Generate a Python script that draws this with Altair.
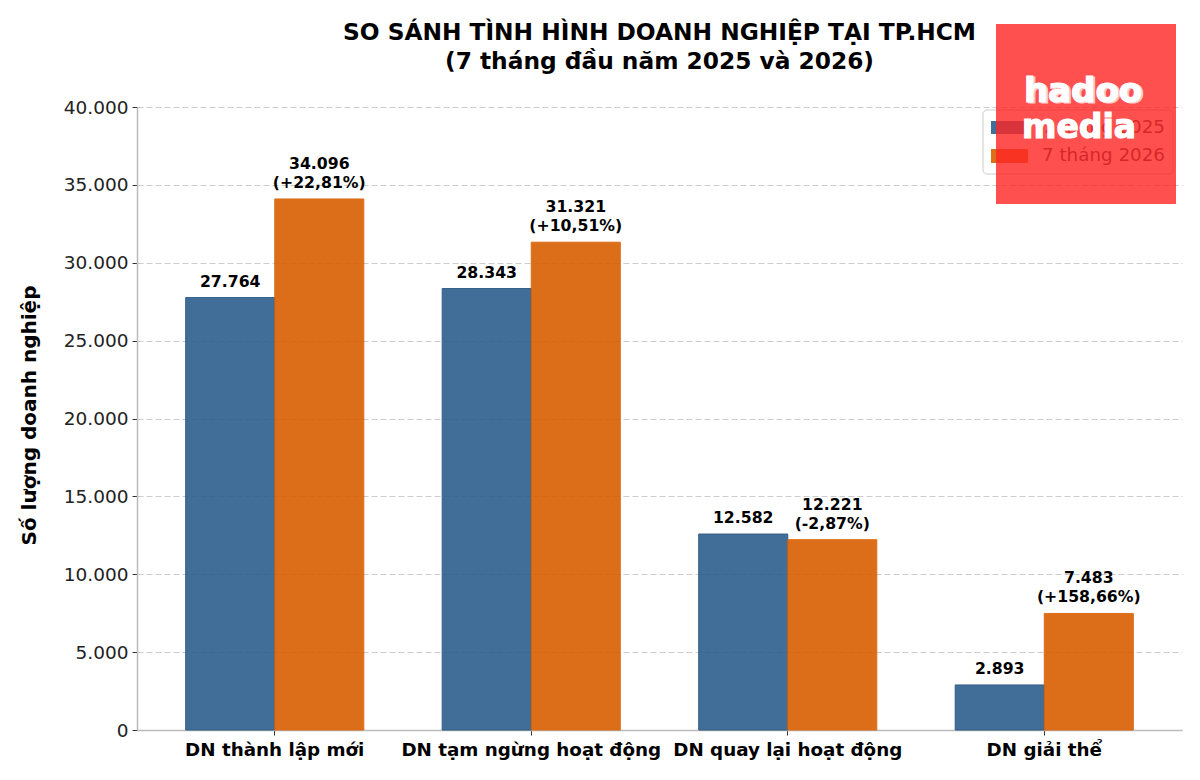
import altair as alt
import pandas as pd

FONT = "DejaVu Sans"

categories = ["DN thành lập mới", "DN tạm ngừng hoạt động", "DN quay lại hoạt động", "DN giải thể"]
series_names = ["7 tháng 2025", "7 tháng 2026"]
values_2025 = [27764, 28343, 12582, 2893]
values_2026 = [34096, 31321, 12221, 7483]
labels_2025 = ["27.764", "28.343", "12.582", "2.893"]
labels_2026 = ["34.096", "31.321", "12.221", "7.483"]
changes_2026 = ["(+22,81%)", "(+10,51%)", "(-2,87%)", "(+158,66%)"]
y_ticks = [0, 5000, 10000, 15000, 20000, 25000, 30000, 35000, 40000]
bar_colors = ["#2C5F8D", "#D95F02"]

df = pd.DataFrame({
    "cat": categories * 2,
    "series": [series_names[0]] * 4 + [series_names[1]] * 4,
    "value": values_2025 + values_2026,
    # line right above the bar, and the extra line over it for 2026
    "low": labels_2025 + changes_2026,
    "high": [""] * 4 + labels_2026,
})

x = alt.X(
    "cat:N",
    sort=categories,
    title=None,
    scale=alt.Scale(paddingInner=0, paddingOuter=0.037),
    axis=alt.Axis(
        labelAngle=0, labelFont=FONT, labelFontSize=18.3, labelFontWeight="bold",
        labelColor="#000000", labelPadding=6, labelLimit=300,
        tickColor="#333333", tickSize=5, domainColor="#BBBBBB", domainWidth=1.5, grid=False,
    ),
)
x_offset = alt.XOffset(
    "series:N", sort=series_names,
    scale=alt.Scale(paddingInner=0, paddingOuter=0.44),
)
y = alt.Y(
    "value:Q",
    title="Số lượng doanh nghiệp",
    scale=alt.Scale(domain=[0, 40000], nice=False),
    axis=alt.Axis(
        values=y_ticks,
        labelExpr="replace(format(datum.value, ','), ',', '.')",
        labelFont=FONT, labelFontSize=18.5, labelColor="#222222", labelPadding=4,
        tickColor="#333333", tickSize=5, domainColor="#BBBBBB", domainWidth=1.5,
        grid=True, gridColor="#CCCCCC", gridDash=[6, 3], gridWidth=1.2,
        titleFont=FONT, titleFontSize=20, titleFontWeight="bold", titleColor="#000000",
        titlePadding=24, titleY=308,
    ),
)

bars = alt.Chart(df).mark_bar(opacity=0.9, strokeWidth=1).encode(
    x=x,
    xOffset=x_offset,
    y=y,
    color=alt.Color("series:N", sort=series_names, legend=None,
                    scale=alt.Scale(domain=series_names, range=bar_colors)),
    stroke=alt.Stroke("series:N", sort=series_names, legend=None,
                      scale=alt.Scale(domain=series_names, range=["#1F4E79", "#D95F02"])),
)

low_labels = alt.Chart(df).mark_text(
    font=FONT, fontSize=15.7, fontWeight="bold", color="#000000", baseline="middle", dy=-16,
).encode(x=x, xOffset=x_offset, y=y, text="low:N")
high_labels = alt.Chart(df).mark_text(
    font=FONT, fontSize=15.7, fontWeight="bold", color="#000000", baseline="middle", dy=-35,
).encode(x=x, xOffset=x_offset, y=y, text="high:N")

# legend drawn by hand, the logo has to sit on top of it
one = pd.DataFrame({"k": [0]})
legend_box = alt.Chart(one).mark_rect(
    fill="#FFFFFF", fillOpacity=0.8, stroke="#CCCCCC", strokeWidth=1, cornerRadius=4,
).encode(x=alt.value(846), x2=alt.value(1036), y=alt.value(3), y2=alt.value(67))
swatch_a = alt.Chart(one).mark_rect(color=bar_colors[0], opacity=0.9).encode(
    x=alt.value(854), x2=alt.value(891), y=alt.value(14), y2=alt.value(27))
swatch_b = alt.Chart(one).mark_rect(color=bar_colors[1], opacity=0.9).encode(
    x=alt.value(854), x2=alt.value(891), y=alt.value(42), y2=alt.value(56))
legend_a = alt.Chart(one).mark_text(
    text=series_names[0], font=FONT, fontSize=18.3, color="#333333", align="left", baseline="middle",
).encode(x=alt.value(905), y=alt.value(21))
legend_b = alt.Chart(one).mark_text(
    text=series_names[1], font=FONT, fontSize=18.3, color="#333333", align="left", baseline="middle",
).encode(x=alt.value(905), y=alt.value(49))

# logo block
logo_box = alt.Chart(one).mark_rect(color="#FF2424", opacity=0.8).encode(
    x=alt.value(859), x2=alt.value(1039), y=alt.value(-83), y2=alt.value(97))


def logo_word(word, px, py, color, size=33):
    return alt.Chart(one).mark_text(
        text=word, font=FONT, fontSize=size, fontWeight="bold", color=color,
        stroke=color, strokeWidth=1.2, align="center", baseline="middle",
    ).encode(x=alt.value(px), y=alt.value(py))


logo = [
    logo_word("hadoo", 948, -14, "#FFC9C9", 34),
    logo_word("hadoo", 946, -15, "#FFFFFF", 34),
    logo_word("media", 942, 21, "#FFFFFF"),
]

chart = alt.layer(
    bars, low_labels, high_labels, legend_box, swatch_a, swatch_b, legend_a, legend_b, logo_box, *logo
).properties(
    width=1045,
    height=623,
    padding={"left": 129, "top": 99, "right": 10, "bottom": 42},
    autosize=alt.AutoSizeParams(type="none"),
    background="#FFFFFF",
    title=alt.TitleParams(
        text=["SO SÁNH TÌNH HÌNH DOANH NGHIỆP TẠI TP.HCM", "(7 tháng đầu năm 2025 và 2026)"],
        font=FONT, fontSize=23.3, fontWeight="bold", color="#000000",
        anchor="middle", lineHeight=29, offset=-50,
    ),
).configure_view(stroke=None)

chart.save("out.html", embed_options={"renderer": "svg", "actions": False})
